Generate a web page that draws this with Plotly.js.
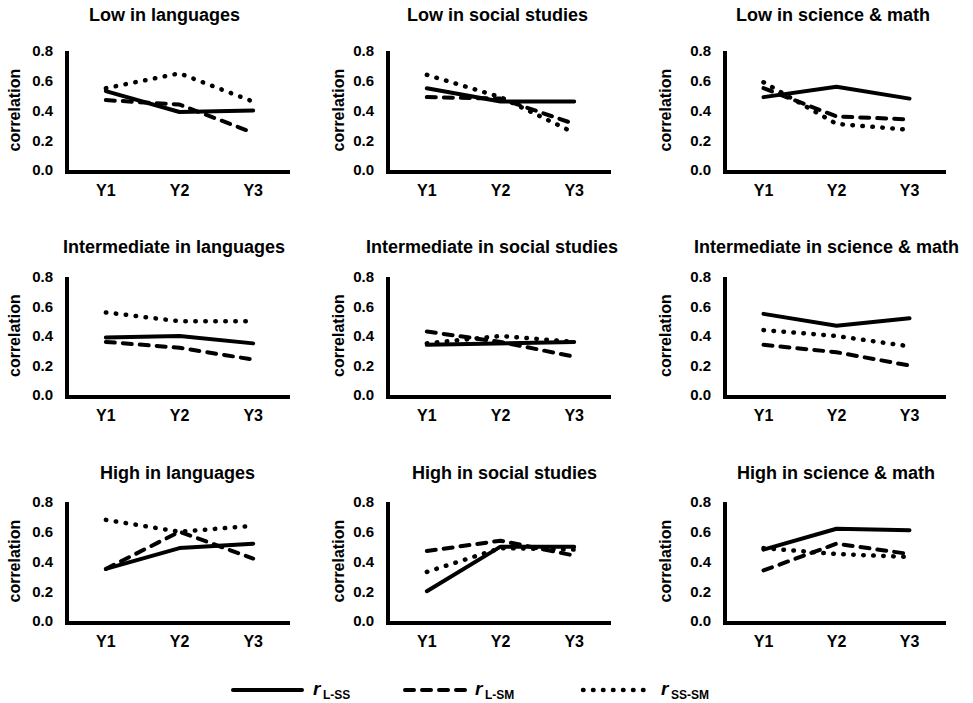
<!DOCTYPE html>
<html><head><meta charset="utf-8">
<script src="https://cdn.plot.ly/plotly-3.0.1.min.js"></script>
<style>
html,body{margin:0;padding:0;background:#fff}
#chart{width:973px;height:703px}
.js-line, .shapelayer path { stroke-linecap: round !important; stroke-linejoin: round !important; }
</style>
</head><body><div id="chart"></div>
<script>
// ---- data ----
const years = ['Y1', 'Y2', 'Y3'];
const panelTitles = [
  'Low in languages', 'Low in social studies', 'Low in science & math',
  'Intermediate in languages', 'Intermediate in social studies', 'Intermediate in science & math',
  'High in languages', 'High in social studies', 'High in science & math'
];
const seriesSymbol = 'r';
const seriesSubs = ['L-SS', 'L-SM', 'SS-SM'];
const yTitle = 'correlation';
const yTicks = [0, 0.2, 0.4, 0.6, 0.8];
const rL_SS = [
  [0.53, 0.39, 0.40],
  [0.55, 0.46, 0.46],
  [0.49, 0.56, 0.48],
  [0.39, 0.40, 0.35],
  [0.34, 0.35, 0.36],
  [0.55, 0.47, 0.52],
  [0.35, 0.49, 0.52],
  [0.20, 0.50, 0.50],
  [0.48, 0.62, 0.61]
];
const rL_SM = [
  [0.47, 0.44, 0.25],
  [0.49, 0.48, 0.31],
  [0.55, 0.36, 0.34],
  [0.36, 0.32, 0.24],
  [0.43, 0.36, 0.26],
  [0.34, 0.29, 0.20],
  [0.35, 0.60, 0.42],
  [0.47, 0.54, 0.44],
  [0.34, 0.52, 0.45]
];
const rSS_SM = [
  [0.55, 0.65, 0.46],
  [0.64, 0.49, 0.25],
  [0.59, 0.31, 0.27],
  [0.56, 0.50, 0.50],
  [0.35, 0.40, 0.36],
  [0.44, 0.40, 0.33],
  [0.68, 0.60, 0.64],
  [0.33, 0.49, 0.48],
  [0.49, 0.45, 0.43]
];

// ---- layout geometry (pixels) ----
const W = 973, H = 703;
const colPx = [[69, 290], [390, 611], [727, 946]];
const rowPx = [[51, 170], [277, 395], [502, 621]];
const titleCx = [164, 497, 833, 174, 492, 826, 177, 505, 836];
const titleCy = [15, 247, 473];
const ylabCx = [14, 338, 665];
const FONT = 'Liberation Sans, Arial, sans-serif';

const styles = [
  {width: 4, dash: 'solid'},
  {width: 4, dash: '9px,8px'},
  {width: 4.5, dash: '0.5px,9.5px'}
];
const seriesData = [rL_SS, rL_SM, rSS_SM];

const px = v => v / W, py = v => 1 - v / H;
const traces = [];
const layout = {
  width: W, height: H, margin: {l: 0, r: 0, t: 0, b: 0},
  paper_bgcolor: '#fff', plot_bgcolor: '#fff', showlegend: false,
  font: {family: FONT, color: '#000'},
  annotations: [], shapes: []
};

for (let i = 0; i < 9; i++) {
  const r = Math.floor(i / 3), c = i % 3;
  const sfx = i === 0 ? '' : String(i + 1);
  layout['xaxis' + sfx] = {
    domain: [px(colPx[c][0]), px(colPx[c][1])], anchor: 'y' + sfx,
    type: 'category', range: [-0.5, 2.5],
    showline: true, linewidth: 4, linecolor: '#000',
    showgrid: false, zeroline: false, ticks: '',
    tickfont: {family: FONT, size: 16, weight: 'bold', color: '#000'},
    ticklabelstandoff: 3, fixedrange: true
  };
  layout['yaxis' + sfx] = {
    domain: [py(rowPx[r][1]), py(rowPx[r][0])], anchor: 'x' + sfx,
    range: [0, 0.8], tickvals: yTicks, tickformat: '.1f',
    showline: true, linewidth: 4, linecolor: '#000',
    showgrid: false, zeroline: false, ticks: '',
    tickfont: {family: FONT, size: 15, weight: 'bold', color: '#000'},
    ticklabelstandoff: 9, fixedrange: true
  };
  seriesData.forEach((d, k) => traces.push({
    x: years, y: d[i], type: 'scatter', mode: 'lines',
    xaxis: 'x' + sfx, yaxis: 'y' + sfx,
    line: {color: '#000', width: styles[k].width, dash: styles[k].dash},
    hoverinfo: 'skip', showlegend: false, name: seriesSymbol + ' ' + seriesSubs[k]
  }));
  layout.annotations.push({
    text: panelTitles[i], xref: 'paper', yref: 'paper',
    x: px(titleCx[i]), y: py(titleCy[r]), xanchor: 'center', yanchor: 'middle',
    showarrow: false, font: {family: FONT, size: 18, weight: 'bold', color: '#000'}
  });
  layout.annotations.push({
    text: yTitle, xref: 'paper', yref: 'paper', textangle: -90,
    x: px(ylabCx[c]), y: py((rowPx[r][0] + rowPx[r][1]) / 2), xanchor: 'center', yanchor: 'middle',
    showarrow: false, font: {family: FONT, size: 16, weight: 'bold', color: '#000'}
  });
}

// ---- legend (drawn manually) ----
const legLines = [[233, 302], [405, 469], [583, 650]];
const legSym = [311, 473, 659];
const legSub = [321, 483, 669];
const legY = 690;
for (let k = 0; k < 3; k++) {
  layout.shapes.push({
    type: 'line', xref: 'paper', yref: 'paper',
    x0: px(legLines[k][0]), x1: px(legLines[k][1]), y0: py(legY), y1: py(legY),
    line: {color: '#000', width: styles[k].width, dash: styles[k].dash}
  });
  layout.annotations.push({
    text: seriesSymbol, xref: 'paper', yref: 'paper',
    x: px(legSym[k]), y: py(legY - 2), xanchor: 'left', yanchor: 'middle',
    showarrow: false, font: {family: FONT, size: 19, weight: 'bold', style: 'italic', color: '#000'}
  });
  layout.annotations.push({
    text: seriesSubs[k], xref: 'paper', yref: 'paper',
    x: px(legSub[k]), y: py(legY + 5), xanchor: 'left', yanchor: 'middle',
    showarrow: false, font: {family: FONT, size: 12, weight: 'bold', color: '#000'}
  });
}

Plotly.newPlot('chart', traces, layout, {staticPlot: true, displayModeBar: false});
</script>
</body></html>
